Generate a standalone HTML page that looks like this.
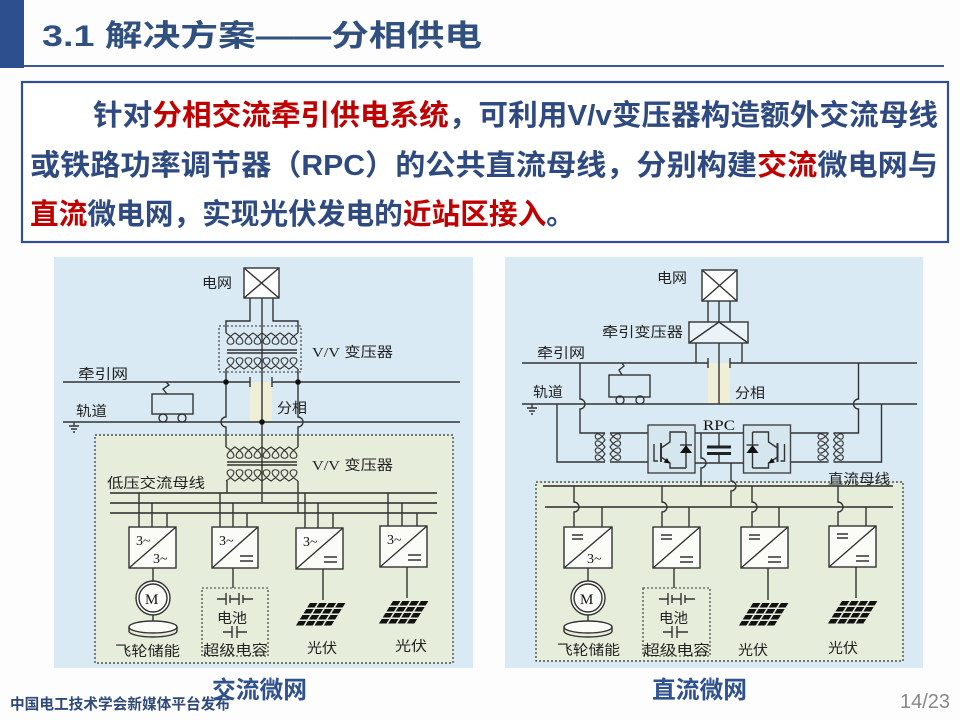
<!DOCTYPE html>
<html><head><meta charset="utf-8"><style>
html,body{margin:0;padding:0;background:#fff;}
svg{display:block;}
</style></head><body>
<svg width="960" height="720" viewBox="0 0 960 720" xmlns="http://www.w3.org/2000/svg" font-family="'Liberation Sans','Noto Sans CJK SC',sans-serif">
<rect x="0" y="0" width="960" height="720" fill="#fdfdfd"/>
<!-- header -->
<rect x="0" y="0" width="24" height="68" fill="#2e4f8d"/>
<rect x="24" y="65" width="920" height="2" fill="#3b5a8f"/>
<text x="42" y="46" font-size="30" font-weight="bold" fill="#30507f" textLength="440" lengthAdjust="spacingAndGlyphs">3.1 解决方案——分相供电</text>

<!-- text box -->
<rect x="22" y="82" width="926" height="160" fill="#fff" stroke="#2f4f8f" stroke-width="2.2"/>
<g font-size="29" font-weight="bold" fill="#2e4a80">
<text x="93" y="125" textLength="845" lengthAdjust="spacingAndGlyphs">针对<tspan fill="#c00000">分相交流牵引供电系统</tspan>，可利用V/v变压器构造额外交流母线</text>
<text x="30" y="175" textLength="908" lengthAdjust="spacingAndGlyphs">或铁路功率调节器（RPC）的公共直流母线，分别构建<tspan fill="#c00000">交流</tspan>微电网与</text>
<text x="30" y="224" textLength="545" lengthAdjust="spacingAndGlyphs"><tspan fill="#c00000">直流</tspan>微电网，实现光伏发电的<tspan fill="#c00000">近站区接入</tspan>。</text>
</g>

<defs>
<g id="pv" fill="#111">
  <rect x="0" y="0" width="7.5" height="4.5"/><rect x="9.3" y="0" width="7.5" height="4.5"/><rect x="18.6" y="0" width="7.5" height="4.5"/><rect x="27.9" y="0" width="7.5" height="4.5"/>
  <rect x="0" y="6" width="7.5" height="4.5"/><rect x="9.3" y="6" width="7.5" height="4.5"/><rect x="18.6" y="6" width="7.5" height="4.5"/><rect x="27.9" y="6" width="7.5" height="4.5"/>
  <rect x="0" y="12" width="7.5" height="4.5"/><rect x="9.3" y="12" width="7.5" height="4.5"/><rect x="18.6" y="12" width="7.5" height="4.5"/><rect x="27.9" y="12" width="7.5" height="4.5"/>
  <rect x="0" y="18" width="7.5" height="4.5"/><rect x="9.3" y="18" width="7.5" height="4.5"/><rect x="18.6" y="18" width="7.5" height="4.5"/><rect x="27.9" y="18" width="7.5" height="4.5"/>
</g>
</defs>

<!-- ================= LEFT PANEL ================= -->
<rect x="54" y="257" width="419" height="411" fill="#daeaf4"/>
<rect x="95" y="435" width="358" height="228" fill="#e7eddb" stroke="#333" stroke-width="1.2" stroke-dasharray="2,2"/>
<rect x="250" y="382" width="22" height="40" fill="#efefd8"/>

<g fill="none" stroke="#333" stroke-width="1.4">
  <!-- grid box -->
  <rect x="244" y="268" width="35" height="30" fill="#fff"/>
  <path d="M244,268 L279,298 M279,268 L244,298"/>
  <!-- leads -->
  <path d="M250,298 V321 H226 V333"/>
  <path d="M273,298 V321 H298 V333"/>
  <path d="M262,298 V503"/>
  <!-- top transformer -->
  <rect x="219" y="326" width="82" height="46" stroke-dasharray="2,2" stroke-width="1.1"/>
  <g stroke-width="1.1">
  <path d="M226,333 c23,15 -14,15 9,0 c23,15 -14,15 9,0 c23,15 -14,15 9,0 c23,15 -14,15 9,0 c23,15 -14,15 9,0 c23,15 -14,15 9,0 c23,15 -14,15 9,0 c23,15 -14,15 9,0"/>
  <path d="M226,369 c23,-15 -14,-15 9,0 c23,-15 -14,-15 9,0 c23,-15 -14,-15 9,0 c23,-15 -14,-15 9,0 c23,-15 -14,-15 9,0 c23,-15 -14,-15 9,0 c23,-15 -14,-15 9,0 c23,-15 -14,-15 9,0"/>
  </g>
  <path d="M227,350 H297 M227,353 H297"/>
  <!-- vertical leads to lower transformer with hops -->
  <path d="M226,369 V417 a5,5 0 0 0 0,10 V447"/>
  <path d="M298,369 V417 a5,5 0 0 1 0,10 V447"/>
  <!-- traction line -->
  <path d="M63,382 H250 M250,377 V387 M272,382 H460 M272,377 V387"/>
  <!-- rail -->
  <path d="M63,422 H460"/>
  <path d="M74,422 V426 M69,426 H79 M71,429 H77 M73,432 H75"/>
  <!-- train -->
  <rect x="152" y="394" width="41" height="20"/>
  <path d="M167,394 L163,389 L169,385 L166,382"/>
  <circle cx="163" cy="418" r="4"/><circle cx="182" cy="418" r="4"/>
  <!-- lower transformer -->
  <g stroke-width="1.1">
  <path d="M226,447 c23,15 -14,15 9,0 c23,15 -14,15 9,0 c23,15 -14,15 9,0 c23,15 -14,15 9,0 c23,15 -14,15 9,0 c23,15 -14,15 9,0 c23,15 -14,15 9,0 c23,15 -14,15 9,0"/>
  <path d="M226,481 c23,-15 -14,-15 9,0 c23,-15 -14,-15 9,0 c23,-15 -14,-15 9,0 c23,-15 -14,-15 9,0 c23,-15 -14,-15 9,0 c23,-15 -14,-15 9,0 c23,-15 -14,-15 9,0 c23,-15 -14,-15 9,0"/>
  </g>
  <path d="M227,462 H297 M227,465 H297"/>
  <path d="M227,481 V493 M298,481 V513"/>
</g>
<g fill="#111">
  <circle cx="226" cy="382" r="2.8"/><circle cx="298" cy="382" r="2.8"/><circle cx="262" cy="422" r="2.8"/>
</g>
<!-- buses -->
<g stroke="#444" stroke-width="1.8" fill="none">
  <path d="M110,493 H437 M110,503 H437 M110,513 H437"/>
</g>
<g stroke="#333" stroke-width="1.4" fill="none">
  <path d="M139,493 V527 M152,503 V527 M167,513 V527"/>
  <path d="M220,493 V527 M233,503 V527 M247,513 V527"/>
  <path d="M305,493 V528 M318,503 V528 M333,513 V528"/>
  <path d="M388,493 V526 M402,503 V526 M417,513 V526"/>
  <!-- boxes -->
  <rect x="129" y="527" width="47" height="41" fill="#fbfbf8"/><path d="M129,568 L176,527"/>
  <rect x="212" y="527" width="46" height="41" fill="#fbfbf8"/><path d="M212,568 L258,527"/>
  <rect x="296" y="528" width="47" height="41" fill="#fbfbf8"/><path d="M296,569 L343,528"/>
  <rect x="380" y="526" width="47" height="41" fill="#fbfbf8"/><path d="M380,567 L427,526"/>
  <!-- = signs -->
  <path d="M240,556 H253 M240,561 H253"/>
  <path d="M324,557 H337 M324,562 H337"/>
  <path d="M408,555 H421 M408,560 H421"/>
  <!-- motor -->
  <path d="M153,568 V581 M153,615 V621"/>
  <circle cx="153" cy="598" r="17" fill="#fbfbf8"/>
  <circle cx="153" cy="598" r="14"/>
  <path d="M129,627 A24,6 0 1 1 177,627 A24,6 0 1 1 129,627 Z" fill="#fbfbf8"/>
  <path d="M129,627 V631 A24,6 0 0 0 177,631 V627"/>
  <!-- storage -->
  <path d="M233,568 V588"/>
  <rect x="202" y="588" width="66" height="68" stroke-dasharray="2,2" stroke-width="1.1"/>
  <path d="M217,599 H226 M226,593 V605 M230,595 V603 M230,599 H239 M239,593 V605 M243,595 V603 M243,599 H253"/>
  <path d="M223,632 H232 M232,626 V638 M237,626 V638 M237,632 H247"/>
  <!-- pv leads -->
  <path d="M323,569 V600 M407,567 V598"/>
</g>
<use href="#pv" transform="translate(310,603) skewX(-32)"/>
<use href="#pv" transform="translate(393,601) skewX(-32)"/>
<g font-family="'Liberation Serif',serif" font-size="14" fill="#111">
  <text x="136" y="545">3~</text><text x="153" y="563">3~</text>
  <text x="219" y="545">3~</text>
  <text x="303" y="546">3~</text>
  <text x="387" y="544">3~</text>
  <text x="145" y="604" font-size="15">M</text>
</g>
<g font-size="14" fill="#222" font-family="'Liberation Sans','Noto Sans CJK SC',sans-serif">
  <text x="202" y="288" textLength="30" lengthAdjust="spacingAndGlyphs">电网</text>
  <text x="312" y="357" textLength="81" lengthAdjust="spacingAndGlyphs"><tspan font-family="'Liberation Serif',serif">V/V</tspan> 变压器</text>
  <text x="78" y="379" textLength="50" lengthAdjust="spacingAndGlyphs">牵引网</text>
  <text x="76" y="416" textLength="31" lengthAdjust="spacingAndGlyphs">轨道</text>
  <text x="277" y="413" textLength="30" lengthAdjust="spacingAndGlyphs">分相</text>
  <text x="312" y="470" textLength="81" lengthAdjust="spacingAndGlyphs"><tspan font-family="'Liberation Serif',serif">V/V</tspan> 变压器</text>
  <text x="107" y="488" textLength="98" lengthAdjust="spacingAndGlyphs">低压交流母线</text>
  <text x="115" y="656" textLength="65" lengthAdjust="spacingAndGlyphs">飞轮储能</text>
  <text x="217" y="623" textLength="30" lengthAdjust="spacingAndGlyphs">电池</text>
  <text x="203" y="655" textLength="65" lengthAdjust="spacingAndGlyphs">超级电容</text>
  <text x="307" y="653" textLength="30" lengthAdjust="spacingAndGlyphs">光伏</text>
  <text x="395" y="651" textLength="32" lengthAdjust="spacingAndGlyphs">光伏</text>
</g>

<!-- ================= RIGHT PANEL ================= -->
<rect x="505" y="257" width="418" height="411" fill="#daeaf4"/>
<rect x="536" y="482" width="367" height="179" fill="#e7eddb" stroke="#333" stroke-width="1.2" stroke-dasharray="2,2"/>
<rect x="708" y="363" width="22" height="41" fill="#efefd8"/>

<defs>
<g id="rpcL" fill="none" stroke="#333" stroke-width="1.4">
  <path d="M580,363 V399 a5,5 0 0 1 0,10 V433 H605"/>
  <path d="M605,433 c-13,18 -13,-11 0,7 c-13,18 -13,-11 0,7 c-13,18 -13,-11 0,7 c-13,18 -13,-11 0,7" stroke-width="1.1"/>
  <path d="M557,404 V462 H605"/>
  <path d="M610,433 c14,18 14,-11 0,7 c14,18 14,-11 0,7 c14,18 14,-11 0,7 c14,18 14,-11 0,7" stroke-width="1.1"/>
  <path d="M610,433 H648 M610,462 H648"/>
  <rect x="648" y="425" width="47" height="48" fill="#d6e6ef" stroke="#444"/>
  <path d="M654,444 V461 H658"/>
  <path d="M661,443 V462" stroke-width="2"/>
  <path d="M661,448 L670,442 V432 H686 M661,457 L670,463 V468 H686 M686,432 V468"/>
  <polygon points="670,463.5 663.5,462.5 667,458" fill="#111" stroke="none"/>
  <polygon points="680,453 692,453 686,445" fill="#111" stroke="none"/>
  <path d="M680,445 H692"/>
</g>
</defs>
<use href="#rpcL"/>
<use href="#rpcL" transform="matrix(-1 0 0 1 1438.5 0)"/>

<g fill="none" stroke="#333" stroke-width="1.4">
  <rect x="702" y="270" width="35" height="31" fill="#fff"/>
  <path d="M702,270 L737,301 M737,270 L702,301"/>
  <path d="M708,301 V322 M719,301 V322 M730,301 V322"/>
  <rect x="689" y="322" width="59" height="21" fill="#eaf3f8"/>
  <path d="M689,343 L719,322 L748,343"/>
  <path d="M696,343 V363 M742,343 V363 M719,343 V404"/>
  <path d="M522,363 H708 M708,358 V368 M730,363 H917 M730,358 V368"/>
  <path d="M522,404 H917"/>
  <path d="M532,404 V408 M527,408 H537 M529,411 H535 M531,414 H533"/>
  <rect x="609" y="375" width="41" height="22"/>
  <path d="M622,375 L619,370 L624,366 L622,363"/>
  <circle cx="620" cy="400" r="4"/><circle cx="640" cy="400" r="4"/>
  <!-- DC link -->
  <path d="M695,433 H743 M695,463 H743"/>
  <path d="M719,433 V446 M719,455 V463"/>
  <path d="M701,433 V458 a5,5 0 0 1 0,10 V486"/>
  <path d="M731,463 V481 a5,5 0 0 1 0,10 V507"/>
</g>
<rect x="707" y="445.5" width="24" height="3" fill="#222"/>
<rect x="707" y="452" width="24" height="3" fill="#222"/>
<g stroke="#444" stroke-width="1.8" fill="none">
  <path d="M543,486 H893 M545,507 H893"/>
</g>
<g fill="none" stroke="#333" stroke-width="1.4">
  <path d="M574,486 V502 a5,5 0 0 1 0,10 V527 M602,507 V527"/>
  <path d="M662,486 V502 a5,5 0 0 1 0,10 V527 M689,507 V527"/>
  <path d="M752,486 V502 a5,5 0 0 1 0,10 V527 M779,507 V527"/>
  <path d="M838,486 V502 a5,5 0 0 1 0,10 V526 M866,507 V526"/>
  <rect x="564" y="527" width="48" height="41" fill="#fbfbf8"/><path d="M564,568 L612,527"/>
  <rect x="653" y="527" width="47" height="41" fill="#fbfbf8"/><path d="M653,568 L700,527"/>
  <rect x="741" y="527" width="47" height="41" fill="#fbfbf8"/><path d="M741,568 L788,527"/>
  <rect x="829" y="526" width="47" height="41" fill="#fbfbf8"/><path d="M829,567 L876,526"/>
  <path d="M572,535 H583 M572,539 H583"/>
  <path d="M661,535 H672 M661,539 H672 M680,557 H693 M680,562 H693"/>
  <path d="M749,535 H760 M749,539 H760 M768,557 H781 M768,562 H781"/>
  <path d="M837,534 H848 M837,538 H848 M856,556 H869 M856,561 H869"/>
  <path d="M588,568 V581 M588,615 V621"/>
  <circle cx="588" cy="598" r="17" fill="#fbfbf8"/>
  <circle cx="588" cy="598" r="14"/>
  <path d="M564,627 A24,6 0 1 1 612,627 A24,6 0 1 1 564,627 Z" fill="#fbfbf8"/>
  <path d="M564,627 V631 A24,6 0 0 0 612,631 V627"/>
  <path d="M674,568 V588"/>
  <rect x="643" y="588" width="67" height="68" stroke-dasharray="2,2" stroke-width="1.1"/>
  <path d="M659,599 H668 M668,593 V605 M672,595 V603 M672,599 H681 M681,593 V605 M685,595 V603 M685,599 H695"/>
  <path d="M663,632 H672 M672,626 V638 M677,626 V638 M677,632 H688"/>
  <path d="M768,568 V600 M856,567 V598"/>
</g>
<use href="#pv" transform="translate(753,603) skewX(-32)"/>
<use href="#pv" transform="translate(842,601) skewX(-32)"/>
<g font-family="'Liberation Serif',serif" font-size="14" fill="#111">
  <text x="587" y="563">3~</text>
  <text x="580" y="604" font-size="15">M</text>
  <text x="703" y="430" font-size="15" textLength="32" lengthAdjust="spacingAndGlyphs">RPC</text>
</g>
<g font-size="14" fill="#222">
  <text x="657" y="283" textLength="30" lengthAdjust="spacingAndGlyphs">电网</text>
  <text x="602" y="337" textLength="81" lengthAdjust="spacingAndGlyphs">牵引变压器</text>
  <text x="537" y="358" textLength="48" lengthAdjust="spacingAndGlyphs">牵引网</text>
  <text x="533" y="397" textLength="30" lengthAdjust="spacingAndGlyphs">轨道</text>
  <text x="735" y="398" textLength="30" lengthAdjust="spacingAndGlyphs">分相</text>
  <text x="828" y="484" textLength="62" lengthAdjust="spacingAndGlyphs">直流母线</text>
  <text x="557" y="655" textLength="63" lengthAdjust="spacingAndGlyphs">飞轮储能</text>
  <text x="659" y="623" textLength="29" lengthAdjust="spacingAndGlyphs">电池</text>
  <text x="643" y="655" textLength="67" lengthAdjust="spacingAndGlyphs">超级电容</text>
  <text x="738" y="655" textLength="30" lengthAdjust="spacingAndGlyphs">光伏</text>
  <text x="828" y="653" textLength="30" lengthAdjust="spacingAndGlyphs">光伏</text>
</g>

<!-- captions & footer -->
<text x="212" y="698" font-size="24" font-weight="bold" fill="#2f528f" textLength="95" lengthAdjust="spacingAndGlyphs">交流微网</text>
<text x="652" y="698" font-size="24" font-weight="bold" fill="#2f528f" textLength="95" lengthAdjust="spacingAndGlyphs">直流微网</text>
<text x="10" y="709" font-size="15" font-weight="bold" fill="#2f4a7a" textLength="220" lengthAdjust="spacingAndGlyphs">中国电工技术学会新媒体平台发布</text>
<text x="900" y="708" font-size="20" fill="#888" textLength="50" lengthAdjust="spacingAndGlyphs">14/23</text>
</svg>
</body></html>
